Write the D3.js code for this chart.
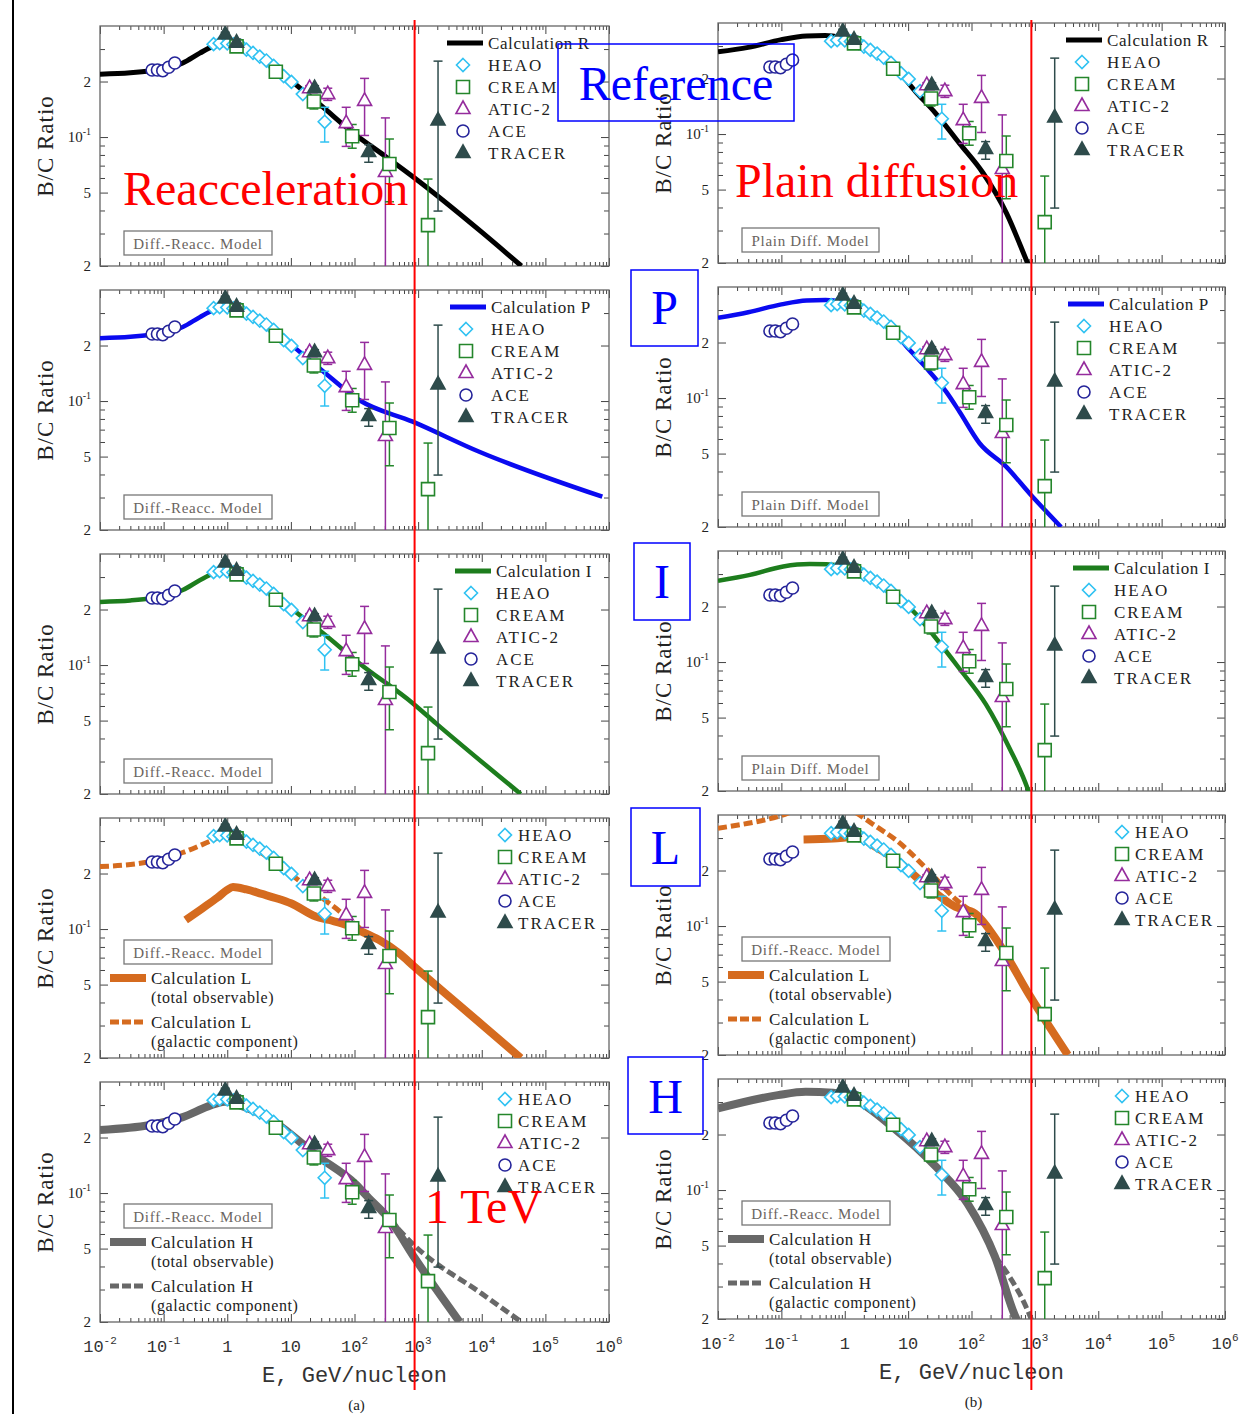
<!DOCTYPE html>
<html>
<head>
<meta charset="utf-8">
<script src="https://cdn.jsdelivr.net/npm/d3@7"></script>
<style>
  body { margin: 0; background: #fff; }
  svg text { font-family: "Liberation Serif", "Times New Roman", serif; }
</style>
</head>
<body>
<svg id="chart" width="1242" height="1414"></svg>
<script>
// ---- axis ticks ----
var energyMajor = [1e-2, 1e-1, 1, 10, 1e2, 1e3, 1e4, 1e5, 1e6];
var energyExp = [-2, -1, 0, 1, 2, 3, 4, 5, 6];
var ratioTicks = [0.02, 0.05, 0.1, 0.2];
var ratioTickBase = ["2", "5", "10", "2"];
var ratioTickSup = ["", "", "-1", ""];
var ratioMinor = [0.03, 0.04, 0.06, 0.07, 0.08, 0.09, 0.3];
var tevEnergy = 880;

// ---- measurements ----
var heaoE = [0.61, 0.76, 1.0, 1.25, 1.67, 2.0, 2.54, 3.24, 4.12, 5.36, 7.7, 10.2, 15.4, 34];
var heaoV = [0.319, 0.323, 0.322, 0.318, 0.311, 0.298, 0.286, 0.273, 0.26, 0.243, 0.214, 0.199, 0.171, 0.121];
var heaoLo = [null, null, null, null, null, null, null, null, null, null, null, null, null, 0.094];
var heaoHi = [null, null, null, null, null, null, null, null, null, null, null, null, null, 0.145];

var creamE = [1.4, 5.8, 23, 92, 354, 1430];
var creamV = [0.31, 0.226, 0.156, 0.101, 0.0715, 0.0333];
var creamLo = [0.3, 0.213, 0.142, 0.087, 0.0446, 0.012];
var creamHi = [0.318, 0.232, 0.163, 0.117, 0.0976, 0.0592];

var aticE = [19.7, 38, 74, 144, 306];
var aticV = [0.184, 0.171, 0.119, 0.157, 0.0646];
var aticLo = [0.178, 0.158, 0.089, 0.102, 0.012];
var aticHi = [0.19, 0.184, 0.145, 0.208, 0.127];

var aceE = [0.066, 0.08, 0.097, 0.12, 0.15];
var aceV = [0.231, 0.231, 0.229, 0.239, 0.252];

var tracerE = [0.93, 1.4, 23.6, 167, 2055];
var tracerV = [0.36, 0.325, 0.184, 0.083, 0.123];
var tracerLo = [0.35, 0.31, 0.178, 0.073, 0.0397];
var tracerHi = [0.37, 0.34, 0.19, 0.091, 0.258];

// ---- calculations ----
var rReaccE = [0.01, 0.03, 0.065, 0.1, 0.2, 0.37, 0.6, 0.9, 1.3, 2, 3, 5, 10, 30, 100, 300, 880, 1e4, 4.2e4];
var rReaccV = [0.219, 0.223, 0.229, 0.234, 0.252, 0.285, 0.31, 0.318, 0.314, 0.298, 0.277, 0.25, 0.203, 0.148, 0.104, 0.079, 0.06, 0.0305, 0.02];
var rPlainE = [0.01, 0.03, 0.1, 0.25, 0.49, 0.9, 2, 5, 13.3, 27, 64.7, 152, 356, 735, 790];
var rPlainV = [0.279, 0.295, 0.325, 0.34, 0.342, 0.333, 0.305, 0.25, 0.169, 0.13, 0.089, 0.0615, 0.0373, 0.0207, 0.0195];

var pReaccE = [0.01, 0.03, 0.065, 0.1, 0.2, 0.37, 0.6, 0.9, 1.3, 2, 3, 5, 10, 30, 120, 822, 9140, 7.85e5];
var pReaccV = [0.219, 0.223, 0.229, 0.234, 0.252, 0.285, 0.31, 0.318, 0.314, 0.298, 0.277, 0.25, 0.203, 0.148, 0.101, 0.0773, 0.0531, 0.0303];
var pPlainE = [0.01, 0.03, 0.1, 0.25, 0.5, 0.9, 2, 3.56, 10.6, 21.8, 40, 64.7, 134, 352, 819, 2590];
var pPlainV = [0.272, 0.292, 0.322, 0.338, 0.34, 0.333, 0.305, 0.276, 0.182, 0.139, 0.108, 0.0843, 0.0569, 0.0425, 0.0305, 0.02];

var iReaccE = [0.01, 0.03, 0.065, 0.1, 0.2, 0.37, 0.6, 0.9, 1.3, 2, 3, 5, 10, 31.8, 120, 822, 1910, 4.1e4];
var iReaccV = [0.22, 0.224, 0.23, 0.236, 0.255, 0.288, 0.313, 0.322, 0.317, 0.3, 0.278, 0.25, 0.204, 0.149, 0.102, 0.0621, 0.0483, 0.02];
var iPlainE = [0.01, 0.032, 0.107, 0.28, 0.515, 0.94, 2.2, 7.35, 13.5, 24.6, 64.7, 170, 396, 771, 810];
var iPlainV = [0.276, 0.297, 0.33, 0.34, 0.339, 0.33, 0.292, 0.222, 0.181, 0.141, 0.092, 0.0588, 0.0342, 0.0205, 0.0195];

var lTotLeftE = [0.222, 0.4, 0.7, 1.0, 1.23, 2, 3.5, 5.9, 10, 24.6, 40, 77, 120, 241, 500, 874, 1e4, 4.1e4];
var lTotLeftV = [0.112, 0.129, 0.148, 0.163, 0.169, 0.164, 0.155, 0.147, 0.138, 0.117, 0.112, 0.105, 0.098, 0.0874, 0.074, 0.0625, 0.0304, 0.02];
var lGalLeftE = [0.01, 0.061, 0.2, 0.6, 0.92, 2, 5.9, 20, 58, 150];
var lGalLeftV = [0.218, 0.232, 0.26, 0.304, 0.322, 0.29, 0.227, 0.165, 0.125, 0.095];
var lTotRightE = [0.224, 0.656, 1.56, 3, 6.5, 20.5, 56, 114, 270, 849, 3320];
var lTotRightV = [0.295, 0.298, 0.305, 0.27, 0.228, 0.163, 0.127, 0.117, 0.0805, 0.0414, 0.02];
var lGalRightE = [0.01, 0.088, 0.3, 0.8, 1.56, 3, 6.5, 20.5, 56, 100];
var lGalRightV = [0.339, 0.392, 0.45, 0.46, 0.408, 0.35, 0.292, 0.201, 0.14, 0.12];

var hTotLeftE = [0.01, 0.061, 0.2, 0.5, 0.92, 2, 5.9, 24.6, 103, 167, 354, 900, 4500];
var hTotLeftV = [0.22, 0.234, 0.258, 0.295, 0.313, 0.29, 0.239, 0.161, 0.112, 0.094, 0.072, 0.044, 0.02];
var hGalLeftE = [354, 900, 1e4, 4.2e4];
var hGalLeftV = [0.072, 0.0515, 0.0285, 0.02];
var hTotRightE = [0.01, 0.088, 0.242, 0.656, 1.5, 5.64, 27.3, 86, 234, 481, 530];
var hTotRightV = [0.277, 0.327, 0.341, 0.337, 0.307, 0.22, 0.134, 0.0848, 0.0436, 0.021, 0.0195];
var hGalRightE = [234, 355, 850, 900];
var hGalRightV = [0.0436, 0.036, 0.0205, 0.0195];

// ---- layout ----
var svg = d3.select("#chart");
var defs = svg.append("defs");
var cols = [{left: 100, right: 609, bottom0: 266}, {left: 718, right: 1225, bottom0: 263}];
var rowStep = 264, plotH = 240;

function geom(col, row) {
  var c = cols[col];
  var b = c.bottom0 + rowStep * row;
  return {left: c.left, right: c.right, bottom: b, top: b - plotH};
}

var series = [
  {name: "ACE", E: aceE, V: aceV, shape: "circle", color: "#25249a"},
  {name: "HEAO", E: heaoE, V: heaoV, lo: heaoLo, hi: heaoHi, shape: "diamond", color: "#30c2f2"},
  {name: "ATIC-2", E: aticE, V: aticV, lo: aticLo, hi: aticHi, shape: "triangle", color: "#952c9d"},
  {name: "CREAM", E: creamE, V: creamV, lo: creamLo, hi: creamHi, shape: "square", color: "#24862b"},
  {name: "TRACER", E: tracerE, V: tracerV, lo: tracerLo, hi: tracerHi, shape: "triangle", color: "#2e4b4b", filled: true}
];
var legendOrder = ["HEAO", "CREAM", "ATIC-2", "ACE", "TRACER"];

var black = "#000", blue = "#0a0af0", green = "#1d7d1d", orange = "#d56b1f", gray = "#686868";

var panels = [
  {col: 0, row: 0, model: "Diff.-Reacc. Model", calc: "Calculation R", legX: 162, curves: [{E: rReaccE, V: rReaccV, color: black, w: 5}]},
  {col: 1, row: 0, model: "Plain Diff. Model", calc: "Calculation R", legX: 159, curves: [{E: rPlainE, V: rPlainV, color: black, w: 5}]},
  {col: 0, row: 1, model: "Diff.-Reacc. Model", calc: "Calculation P", legX: 159, curves: [{E: pReaccE, V: pReaccV, color: blue, w: 4.5}]},
  {col: 1, row: 1, model: "Plain Diff. Model", calc: "Calculation P", legX: 157, curves: [{E: pPlainE, V: pPlainV, color: blue, w: 4.5}]},
  {col: 0, row: 2, model: "Diff.-Reacc. Model", calc: "Calculation I", legX: 154, curves: [{E: iReaccE, V: iReaccV, color: green, w: 4.5}]},
  {col: 1, row: 2, model: "Plain Diff. Model", calc: "Calculation I", legX: 152, curves: [{E: iPlainE, V: iPlainV, color: green, w: 4.5}]},
  {col: 0, row: 3, model: "Diff.-Reacc. Model", lower: "Calculation L", color: orange, legX: 104,
    curves: [{E: lGalLeftE, V: lGalLeftV, color: orange, w: 5, dash: "9,4"}, {E: lTotLeftE, V: lTotLeftV, color: orange, w: 8}]},
  {col: 1, row: 3, model: "Diff.-Reacc. Model", lower: "Calculation L", color: orange, legX: 103,
    curves: [{E: lGalRightE, V: lGalRightV, color: orange, w: 5, dash: "9,4"}, {E: lTotRightE, V: lTotRightV, color: orange, w: 8}]},
  {col: 0, row: 4, model: "Diff.-Reacc. Model", lower: "Calculation H", color: gray, legX: 104, xLabels: "(a)",
    curves: [{E: hGalLeftE, V: hGalLeftV, color: gray, w: 5, dash: "9,4"}, {E: hTotLeftE, V: hTotLeftV, color: gray, w: 8}]},
  {col: 1, row: 4, model: "Diff.-Reacc. Model", lower: "Calculation H", color: gray, legX: 103, xLabels: "(b)",
    curves: [{E: hGalRightE, V: hGalRightV, color: gray, w: 5, dash: "9,4"}, {E: hTotRightE, V: hTotRightV, color: gray, w: 8}]}
];

function shapePath(shape) {
  if (shape === "diamond") return "M0,-6.5L6.5,0L0,6.5L-6.5,0Z";
  if (shape === "square") return "M-6.5,-6.5H6.5V6.5H-6.5Z";
  if (shape === "triangle") return "M0,-8L7,4.5H-7Z";
  return "M6,0A6,6 0 1,1 -6,0A6,6 0 1,1 6,0Z";
}

function drawSymbol(sel, s, px, py) {
  sel.append("path")
    .attr("d", shapePath(s.shape))
    .attr("transform", "translate(" + px + "," + py + ")")
    .attr("fill", s.filled ? s.color : "#fff")
    .attr("stroke", s.color)
    .attr("stroke-width", 1.6);
}

function addSup(sel, base, sup, supSize, dy) {
  sel.append("tspan").text(base);
  if (sup) sel.append("tspan").attr("dy", dy).attr("font-size", supSize).text(sup);
}

var minorE = [];
for (var n = -2; n < 6; n++) for (var k = 2; k < 10; k++) minorE.push(k * Math.pow(10, n));

panels.forEach(function (p, i) {
  var g = geom(p.col, p.row);
  var x = d3.scaleLog().domain([1e-2, 1e6]).range([g.left, g.right]);
  var y = d3.scaleLog().domain([0.02, 0.4]).range([g.bottom, g.top]);
  var gp = svg.append("g");

  defs.append("clipPath").attr("id", "clip" + i)
    .append("rect").attr("x", g.left).attr("y", g.top)
    .attr("width", g.right - g.left).attr("height", plotH);

  // ticks, all pointing inward
  var axes = [
    [d3.axisBottom(x).tickValues(energyMajor).tickSize(-8), "translate(0," + g.bottom + ")"],
    [d3.axisBottom(x).tickValues(minorE).tickSize(-4), "translate(0," + g.bottom + ")"],
    [d3.axisTop(x).tickValues(energyMajor).tickSize(-8), "translate(0," + g.top + ")"],
    [d3.axisTop(x).tickValues(minorE).tickSize(-4), "translate(0," + g.top + ")"],
    [d3.axisLeft(y).tickValues(ratioTicks).tickSize(-8), "translate(" + g.left + ",0)"],
    [d3.axisLeft(y).tickValues(ratioMinor).tickSize(-5), "translate(" + g.left + ",0)"],
    [d3.axisRight(y).tickValues(ratioTicks).tickSize(-8), "translate(" + g.right + ",0)"],
    [d3.axisRight(y).tickValues(ratioMinor).tickSize(-5), "translate(" + g.right + ",0)"]
  ];
  axes.forEach(function (a) {
    gp.append("g").attr("transform", a[1]).attr("color", "#444")
      .call(a[0].tickFormat(""))
      .call(function (s) { s.select(".domain").remove(); });
  });

  gp.append("rect")
    .attr("x", g.left).attr("y", g.top)
    .attr("width", g.right - g.left).attr("height", plotH)
    .attr("fill", "none").attr("stroke", "#666").attr("stroke-width", 1.3);

  // y tick labels
  ratioTicks.forEach(function (v, j) {
    var t = gp.append("text")
      .attr("x", g.left - 9).attr("y", y(v) + 5)
      .attr("text-anchor", "end").attr("font-size", 15).attr("fill", "#222");
    addSup(t, ratioTickBase[j], ratioTickSup[j], 10, -7);
  });

  gp.append("text")
    .attr("transform", "translate(" + (g.left - 47) + "," + ((g.top + g.bottom) / 2) + ") rotate(-90)")
    .attr("text-anchor", "middle").attr("font-size", 23).attr("fill", "#222")
    .attr("letter-spacing", 1)
    .text("B/C Ratio");

  // calculation curves
  var line = d3.line()
    .x(function (d) { return x(d[0]); })
    .y(function (d) { return y(d[1]); })
    .curve(d3.curveMonotoneX);
  var cg = gp.append("g").attr("clip-path", "url(#clip" + i + ")");
  p.curves.forEach(function (c) {
    cg.append("path")
      .attr("d", line(d3.zip(c.E, c.V)))
      .attr("fill", "none")
      .attr("stroke", c.color)
      .attr("stroke-width", c.w)
      .attr("stroke-dasharray", c.dash || null);
  });

  // error bars then symbols
  var dg = gp.append("g").attr("clip-path", "url(#clip" + i + ")");
  series.forEach(function (s) {
    if (!s.lo) return;
    s.E.forEach(function (e, j) {
      if (s.lo[j] == null) return;
      var px = x(e);
      dg.append("line").attr("x1", px).attr("x2", px)
        .attr("y1", y(s.lo[j])).attr("y2", y(s.hi[j]))
        .attr("stroke", s.color).attr("stroke-width", 1.5);
      [s.lo[j], s.hi[j]].forEach(function (v) {
        dg.append("line").attr("x1", px - 4.5).attr("x2", px + 4.5)
          .attr("y1", y(v)).attr("y2", y(v))
          .attr("stroke", s.color).attr("stroke-width", 1.5);
      });
    });
  });
  series.forEach(function (s) {
    s.E.forEach(function (e, j) { drawSymbol(dg, s, x(e), y(s.V[j])); });
  });

  // upper-right legend
  var lx = g.right - p.legX;
  var ly = g.top + 17;
  var lg = gp.append("g");
  if (p.calc) {
    lg.append("line").attr("x1", lx).attr("x2", lx + 36).attr("y1", ly).attr("y2", ly)
      .attr("stroke", p.curves[0].color).attr("stroke-width", 5);
    lg.append("text").attr("x", lx + 41).attr("y", ly + 6)
      .attr("font-size", 17).attr("letter-spacing", 0.6).attr("fill", "#222")
      .text(p.calc);
    ly += 22;
  }
  var symX = p.calc ? lx + 16 : lx;
  var txtX = p.calc ? lx + 41 : lx + 13;
  legendOrder.forEach(function (name, j) {
    var s = series.filter(function (d) { return d.name === name; })[0];
    drawSymbol(lg, s, symX, ly + 22 * j);
    lg.append("text").attr("x", txtX).attr("y", ly + 22 * j + 6)
      .attr("font-size", 17).attr("letter-spacing", 2).attr("fill", "#222")
      .text(name);
  });

  // model box
  var boxW = p.model === "Plain Diff. Model" ? 137 : 148;
  var boxY = p.lower ? g.bottom - 118 : g.bottom - 35;
  gp.append("rect").attr("x", g.left + 24).attr("y", boxY)
    .attr("width", boxW).attr("height", 24)
    .attr("fill", "#fff").attr("stroke", "#777").attr("stroke-width", 1.3);
  gp.append("text").attr("x", g.left + 24 + boxW / 2).attr("y", boxY + 18)
    .attr("text-anchor", "middle").attr("font-size", 15).attr("letter-spacing", 0.7)
    .attr("fill", "#6a6460").text(p.model);

  // lower-left legend for split calculations
  if (p.lower) {
    var llx = g.left + 10;
    var rows = [
      {dy: -80, sample: "solid", txt: p.lower},
      {dy: -61, txt: "(total observable)"},
      {dy: -36, sample: "dash", txt: p.lower},
      {dy: -17, txt: "(galactic component)"}
    ];
    rows.forEach(function (r) {
      var yy = g.bottom + r.dy;
      if (r.sample) {
        gp.append("line").attr("x1", llx).attr("x2", llx + 36).attr("y1", yy).attr("y2", yy)
          .attr("stroke", p.color).attr("stroke-width", r.sample === "solid" ? 8 : 5)
          .attr("stroke-dasharray", r.sample === "dash" ? "9,3" : null);
      }
      gp.append("text").attr("x", llx + 41).attr("y", yy + 6)
        .attr("font-size", r.sample ? 17 : 16).attr("letter-spacing", 0.6).attr("fill", "#222")
        .text(r.txt);
    });
  }

  // x labels on the bottom row
  if (p.xLabels) {
    energyMajor.forEach(function (e, j) {
      var ex = energyExp[j];
      var t = gp.append("text").attr("x", x(e)).attr("y", g.bottom + 30)
        .attr("text-anchor", "middle").attr("font-size", 17).attr("fill", "#333")
        .style("font-family", "'Liberation Mono', monospace");
      if (ex === 0) t.text("1");
      else if (ex === 1) t.text("10");
      else addSup(t, "10", String(ex), 11, -8);
    });
    gp.append("text").attr("x", (g.left + g.right) / 2).attr("y", g.bottom + 60)
      .attr("text-anchor", "middle").attr("font-size", 22).attr("fill", "#333")
      .style("font-family", "'Liberation Mono', monospace")
      .text("E, GeV/nucleon");
    gp.append("text").attr("x", (g.left + g.right) / 2 + 2).attr("y", g.bottom + 88)
      .attr("text-anchor", "middle").attr("font-size", 15).attr("fill", "#222")
      .text(p.xLabels);
  }
});

// 1 TeV marker lines
cols.forEach(function (c) {
  var x = d3.scaleLog().domain([1e-2, 1e6]).range([c.left, c.right]);
  svg.append("line").attr("x1", x(tevEnergy)).attr("x2", x(tevEnergy))
    .attr("y1", 20).attr("y2", 1390)
    .attr("stroke", "#ff0000").attr("stroke-width", 2);
});

// page edge
svg.append("line").attr("x1", 13).attr("x2", 13).attr("y1", 0).attr("y2", 1414)
  .attr("stroke", "#000").attr("stroke-width", 2);

// annotations
var notes = svg.append("g").attr("font-size", 48);
[[558, 44, 236, 77, "Reference", 676, 100],
 [631, 270, 67, 76, "P", 664.5, 324],
 [634, 543, 56, 77, "I", 662, 598],
 [631, 808, 69, 78, "L", 665.5, 864],
 [628, 1057, 75, 77, "H", 665.5, 1113]].forEach(function (b) {
  notes.append("rect").attr("x", b[0]).attr("y", b[1]).attr("width", b[2]).attr("height", b[3])
    .attr("fill", "none").attr("stroke", "#0000ff").attr("stroke-width", 1.5);
  notes.append("text").attr("x", b[5]).attr("y", b[6]).attr("text-anchor", "middle")
    .attr("fill", "#0000ff").text(b[4]);
});
[["Reacceleration", 123, 205], ["Plain diffusion", 735, 197], ["1 TeV", 425, 1223]].forEach(function (t) {
  notes.append("text").attr("x", t[1]).attr("y", t[2]).attr("fill", "#ff0000").text(t[0]);
});
</script>
</body>
</html>
